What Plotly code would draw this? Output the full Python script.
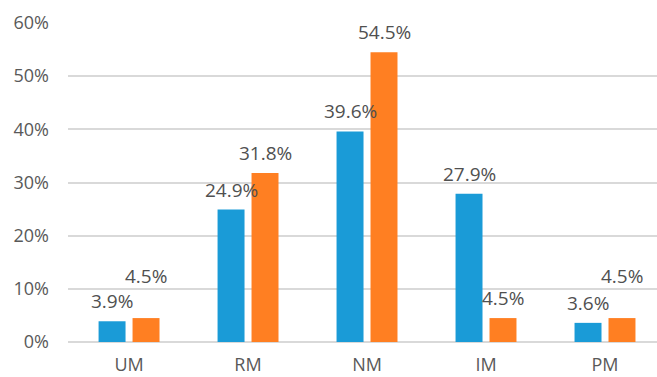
import plotly.graph_objects as go

categories = ["UM", "RM", "NM", "IM", "PM"]
series_a = [0.039, 0.249, 0.396, 0.279, 0.036]
series_b = [0.045, 0.318, 0.545, 0.045, 0.045]
labels_a = ["3.9%", "24.9%", "39.6%", "27.9%", "3.6%"]
labels_b = ["4.5%", "31.8%", "54.5%", "4.5%", "4.5%"]
# extra lift of a few labels that were moved manually in the original
lift_b = [22, 0, 0, 0, 22]

BLUE = "#1a9bd7"
ORANGE = "#ff7f22"
FONT = "Open Sans"

fig = go.Figure()
fig.add_trace(go.Bar(x=categories, y=series_a, marker=dict(color=BLUE, line=dict(width=0)), name="A"))
fig.add_trace(go.Bar(x=categories, y=series_b, marker=dict(color=ORANGE, line=dict(width=0)), name="B"))

annotations = []
for c, v, t in zip(categories, series_a, labels_a):
    annotations.append(dict(x=c, y=v, text=t, showarrow=False, xshift=-17, yshift=20,
                            yanchor="middle", xanchor="center",
                            font=dict(family=FONT, size=19, color="#505050")))
for c, v, t, l in zip(categories, series_b, labels_b, lift_b):
    annotations.append(dict(x=c, y=v, text=t, showarrow=False, xshift=17, yshift=20 + l,
                            yanchor="middle", xanchor="center",
                            font=dict(family=FONT, size=19, color="#505050")))

fig.update_layout(
    width=657, height=377,
    margin=dict(l=68, r=0, t=23, b=35),
    paper_bgcolor="white", plot_bgcolor="white",
    barmode="group", bargap=0.429, bargroupgap=0.206,
    showlegend=False,
    annotations=annotations,
    font=dict(family=FONT, color="#595959"),
    xaxis=dict(range=[-0.513, 4.437], showgrid=False, showline=False, ticks="",
               tickfont=dict(family=FONT, size=18, color="#595959"),
               ticklabelstandoff=10),
    yaxis=dict(range=[0, 0.6], tickvals=[0, 0.1, 0.2, 0.3, 0.4, 0.5, 0.6],
               tickformat=".0%", showgrid=True, gridcolor="#d9d9d9", gridwidth=1.5,
               zeroline=True, zerolinecolor="#d9d9d9", zerolinewidth=1.5,
               showline=False, ticks="",
               tickfont=dict(family=FONT, size=18, color="#595959"),
               ticklabelstandoff=18),
)

fig.write_html("out.html")
